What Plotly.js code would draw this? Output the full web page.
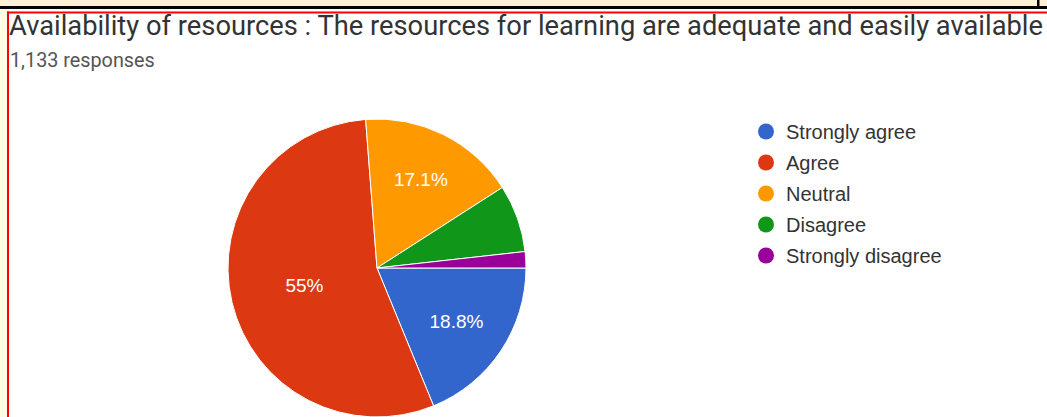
<!DOCTYPE html>
<html>
<head>
<meta charset="utf-8">
<script src="https://cdn.plot.ly/plotly-3.0.1.min.js"></script>
<style>
html,body{margin:0;padding:0;background:#ffffff;overflow:hidden;}
#chart{width:1047px;height:417px;}
</style>
</head>
<body>
<div id="chart"></div>
<script>
// ---- data ----
const categories = ["Strongly agree", "Agree", "Neutral", "Disagree", "Strongly disagree"];
const counts = [213, 623, 194, 83, 20];
const colors = ["#3366cc", "#dc3912", "#ff9900", "#109618", "#990099"];
const showPct = [true, true, true, false, false];
const titleText = "Availability of resources : The resources for learning are adequate and easily available";
const subtitleText = "1,133 responses";

const W = 1047, H = 417;
const px = x => x / W;
const py = y => 1 - y / H;

const pie = {
  type: "pie",
  labels: categories,
  values: counts,
  sort: false,
  direction: "clockwise",
  rotation: 90,
  marker: {colors: colors, line: {color: "#ffffff", width: 1}},
  texttemplate: showPct.map(s => s ? "%{percent}" : ""),
  textposition: "inside",
  insidetextorientation: "horizontal",
  insidetextfont: {family: "Arial, 'Liberation Sans', sans-serif", size: 19, color: "#ffffff"},
  hoverinfo: "label+percent",
  showlegend: false,
  domain: {x: [px(228), px(526)], y: [py(417), py(119)]}
};

const legendTraces = categories.map((c, i) => ({
  type: "scatter",
  mode: "markers",
  x: [null], y: [null],
  name: c,
  legendgroup: "g" + i,
  marker: {color: colors[i], size: 18, symbol: "circle"},
  showlegend: true,
  hoverinfo: "skip"
}));

const frameShapes = [
  {type: "rect", xref: "paper", yref: "paper", x0: 0, x1: 1, y0: py(6), y1: 1, fillcolor: "#fdf0d6", line: {width: 0}, layer: "below"},
  {type: "rect", xref: "paper", yref: "paper", x0: 0, x1: px(7), y0: 0, y1: py(6), fillcolor: "#fffde6", line: {width: 0}, layer: "below"},
  {type: "rect", xref: "paper", yref: "paper", x0: 0, x1: 1, y0: py(9), y1: py(6), fillcolor: "#000000", line: {width: 0}, layer: "below"},
  {type: "rect", xref: "paper", yref: "paper", x0: px(1037), x1: px(1039.5), y0: py(7), y1: 1, fillcolor: "#000000", line: {width: 0}, layer: "below"},
  {type: "rect", xref: "paper", yref: "paper", x0: px(7), x1: 1, y0: py(13.5), y1: py(11.5), fillcolor: "#ff0000", line: {width: 0}, layer: "below"},
  {type: "rect", xref: "paper", yref: "paper", x0: px(7), x1: px(9), y0: 0, y1: py(11.5), fillcolor: "#ff0000", line: {width: 0}, layer: "below"}
];

const layout = {
  width: W, height: H,
  margin: {l: 0, r: 0, t: 0, b: 0},
  paper_bgcolor: "#ffffff",
  plot_bgcolor: "rgba(0,0,0,0)",
  font: {family: "Arial, 'Liberation Sans', sans-serif", color: "#222222"},
  title: {
    text: titleText,
    font: {family: "Roboto, Arial, sans-serif", size: 27.3, color: "#333333"},
    x: px(9), xanchor: "left", xref: "paper",
    y: py(25), yanchor: "middle"
  },
  annotations: [{
    text: subtitleText, xref: "paper", yref: "paper",
    x: px(8), y: py(60), xanchor: "left", yanchor: "middle", showarrow: false,
    font: {family: "Roboto, Arial, sans-serif", size: 19.8, color: "#555555"}
  }],
  xaxis: {visible: false, range: [0, 1], domain: [0, 1]},
  yaxis: {visible: false, range: [0, 1], domain: [0, 1]},
  showlegend: true,
  legend: {
    x: px(746), y: py(112), xanchor: "left", yanchor: "top",
    traceorder: "grouped", tracegroupgap: 2,
    font: {family: "Arial, 'Liberation Sans', sans-serif", size: 20, color: "#333333"},
    bgcolor: "rgba(0,0,0,0)", itemclick: false, itemdoubleclick: false
  },
  shapes: frameShapes
};

Plotly.newPlot("chart", [pie].concat(legendTraces), layout, {displayModeBar: false, staticPlot: true});
</script>
</body>
</html>
